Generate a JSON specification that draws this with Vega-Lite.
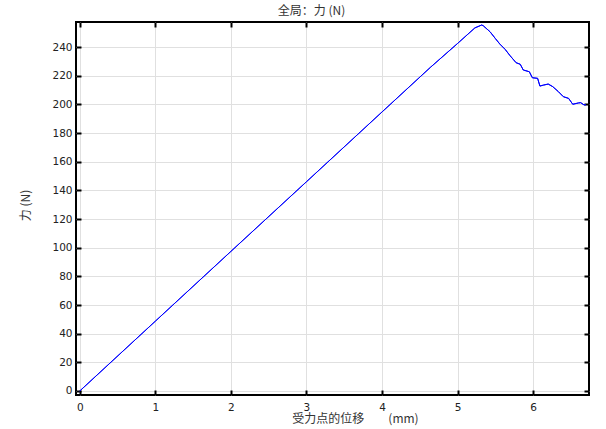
{
  "$schema": "https://vega.github.io/schema/vega-lite/v6.json",
  "autosize": "none",
  "width": 513,
  "height": 373,
  "padding": {"left": 76, "top": 22, "right": 17, "bottom": 34},
  "background": "white",
  "config": {
    "view": {"stroke": "black", "strokeWidth": 2},
    "axis": {
      "labelFont": "DejaVu Sans",
      "labelFontSize": 10.5,
      "labelColor": "#222",
      "titleFont": "Noto Sans CJK SC",
      "titleFontSize": 12,
      "titleFontWeight": "normal",
      "titleColor": "#333",
      "gridColor": "#e0e0e0",
      "gridWidth": 1,
      "domain": false,
      "tickColor": "black",
      "tickWidth": 2
    }
  },
  "title": {
    "text": "全局：力 (N)",
    "font": "Noto Sans CJK SC",
    "fontSize": 12,
    "fontWeight": "normal",
    "color": "#333",
    "anchor": "middle",
    "offset": 3,
    "dx": -21
  },
  "data": {
    "values": [
      {"x": 0, "y": 0},
      {"x": 1.0, "y": 48.7},
      {"x": 2.0, "y": 97.4},
      {"x": 3.0, "y": 146.0},
      {"x": 4.0, "y": 194.7},
      {"x": 4.64, "y": 225.8},
      {"x": 5.0, "y": 242.5},
      {"x": 5.23, "y": 253.4},
      {"x": 5.32, "y": 255.4},
      {"x": 5.34, "y": 254.9},
      {"x": 5.43, "y": 250.7},
      {"x": 5.5, "y": 246.0},
      {"x": 5.56, "y": 242.1},
      {"x": 5.63, "y": 238.4},
      {"x": 5.695, "y": 234.0},
      {"x": 5.775, "y": 229.1},
      {"x": 5.83, "y": 228.0},
      {"x": 5.87, "y": 224.0},
      {"x": 5.95, "y": 222.8},
      {"x": 5.99, "y": 218.6},
      {"x": 6.06, "y": 218.2},
      {"x": 6.09, "y": 212.8},
      {"x": 6.14, "y": 213.5},
      {"x": 6.2, "y": 214.2},
      {"x": 6.26, "y": 212.4},
      {"x": 6.335, "y": 208.9},
      {"x": 6.4, "y": 205.4},
      {"x": 6.47, "y": 204.2},
      {"x": 6.525, "y": 200.1},
      {"x": 6.6, "y": 201.0},
      {"x": 6.63, "y": 201.2},
      {"x": 6.675, "y": 199.6},
      {"x": 6.7, "y": 199.8}
    ]
  },
  "resolve": {"axis": {"x": "independent", "y": "independent"}},
  "layer": [
    {
      "mark": {"type": "line", "color": "#0000ff", "strokeWidth": 1, "clip": true},
      "encoding": {
        "x": {
          "field": "x", "type": "quantitative",
          "scale": {"domain": [-0.05, 6.74], "nice": false, "zero": false},
          "axis": {
            "orient": "bottom", "values": [0, 1, 2, 3, 4, 5, 6], "format": "d",
            "tickSize": -5, "labelPadding": 12, "labelBaseline": "top",
            "title": "受力点的位移　　(mm)", "titleX": 279, "titleY": 27,
            "titleAlign": "center", "titleBaseline": "alphabetic"
          }
        },
        "y": {
          "field": "y", "type": "quantitative",
          "scale": {"domain": [-2.8, 257.5], "nice": false, "zero": false},
          "axis": {
            "orient": "left", "values": [0, 20, 40, 60, 80, 100, 120, 140, 160, 180, 200, 220, 240],
            "tickSize": -5, "labelPadding": 9,
            "title": "力 (N)", "titleAngle": -90, "titleX": -51, "titleY": 183,
            "titleAlign": "center", "titleBaseline": "middle"
          }
        }
      }
    },
    {
      "mark": {"type": "line", "color": "#0000ff", "strokeWidth": 1, "clip": true},
      "encoding": {
        "x": {
          "field": "x", "type": "quantitative",
          "axis": {"orient": "top", "values": [0, 1, 2, 3, 4, 5, 6], "tickSize": -5, "labels": false, "grid": false, "title": null}
        },
        "y": {
          "field": "y", "type": "quantitative",
          "axis": {"orient": "right", "values": [0, 20, 40, 60, 80, 100, 120, 140, 160, 180, 200, 220, 240], "tickSize": -5, "labels": false, "grid": false, "title": null}
        }
      }
    }
  ]
}
